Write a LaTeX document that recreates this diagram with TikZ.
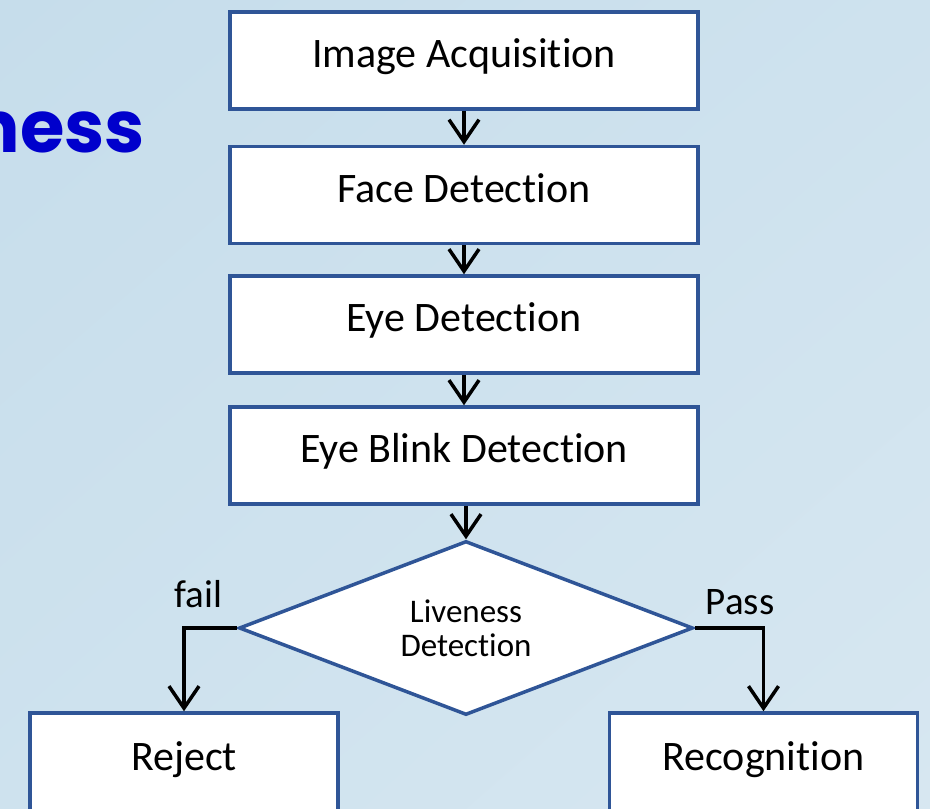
\documentclass[tikz,border=0pt]{standalone}
\usepackage{fontspec}
\setmainfont{Carlito}[Ligatures=NoCommon]
\newfontfamily\titlefont{Poppins}
\usetikzlibrary{arrows.meta,shapes.geometric,shadings}

\definecolor{boxblue}{RGB}{47,85,151}
\definecolor{titleblue}{RGB}{0,0,204}
\definecolor{bgA}{RGB}{198,221,235}
\definecolor{bgM}{RGB}{206,226,238}
\definecolor{bgB}{RGB}{215,231,241}

\tikzset{
  stepbox/.style={draw=boxblue, line width=3.5pt, fill=white,
    minimum width=468pt, minimum height=97pt, inner sep=0pt,
    font=\fontsize{42}{50}\selectfont, text height=30pt, text depth=16pt},
  endbox/.style={stepbox, minimum width=308pt, minimum height=100pt},
  decision/.style={diamond, shape aspect=2.6, draw=boxblue, line width=3.5pt, fill=white,
    minimum width=454pt, minimum height=174pt, inner sep=0pt, align=center,
    font=\fontsize{33}{34}\selectfont},
  flow/.style={line width=3.5pt, -{Straight Barb[length=22pt,width=30pt]}},
  branchlabel/.style={anchor=base, inner sep=0pt, font=\fontsize{39}{44}\selectfont}
}

\begin{document}
\begin{tikzpicture}[x=1pt,y=-1pt]
  % page and background
  \useasboundingbox (0,0) rectangle (930,809);
  \shade[upper left=bgA, upper right=bgM, lower left=bgM, lower right=bgB]
    (0,0) rectangle (930,809);

  % heading, running off the left edge
  \node[anchor=base east, inner sep=0pt, text=titleblue,
        font=\titlefont\bfseries\fontsize{72}{80}\selectfont] (title) at (145,152) {ness};

  % processing steps
  \node[stepbox] (acq)   at (464,60.5)  {Image Acquisition};
  \node[stepbox] (face)  at (464,195)   {Face Detection};
  \node[stepbox] (eye)   at (464,324.5) {Eye Detection};
  \node[stepbox] (blink) at (464,455.5) {Eye Blink Detection};

  % decision
  \node[decision] (live) at (466,628) {Liveness\\Detection};

  % outcomes
  \node[endbox] (rej) at (184,763)   {Reject};
  \node[endbox] (rec) at (763.5,763) {Recognition};

  % connectors
  \draw[flow] (acq)   -- (face);
  \draw[flow] (face)  -- (eye);
  \draw[flow] (eye)   -- (blink);
  \draw[flow] (live.north |- blink.south) -- (live.north);
  \draw[flow] (live.west) -| (rej.north);
  \draw[flow] (live.east) -| (rec.north);

  % branch labels
  \node[branchlabel] (faillbl) at (198.5,607) {fail};
  \node[branchlabel] (passlbl) at (740,614)   {Pass};
\end{tikzpicture}
\end{document}
